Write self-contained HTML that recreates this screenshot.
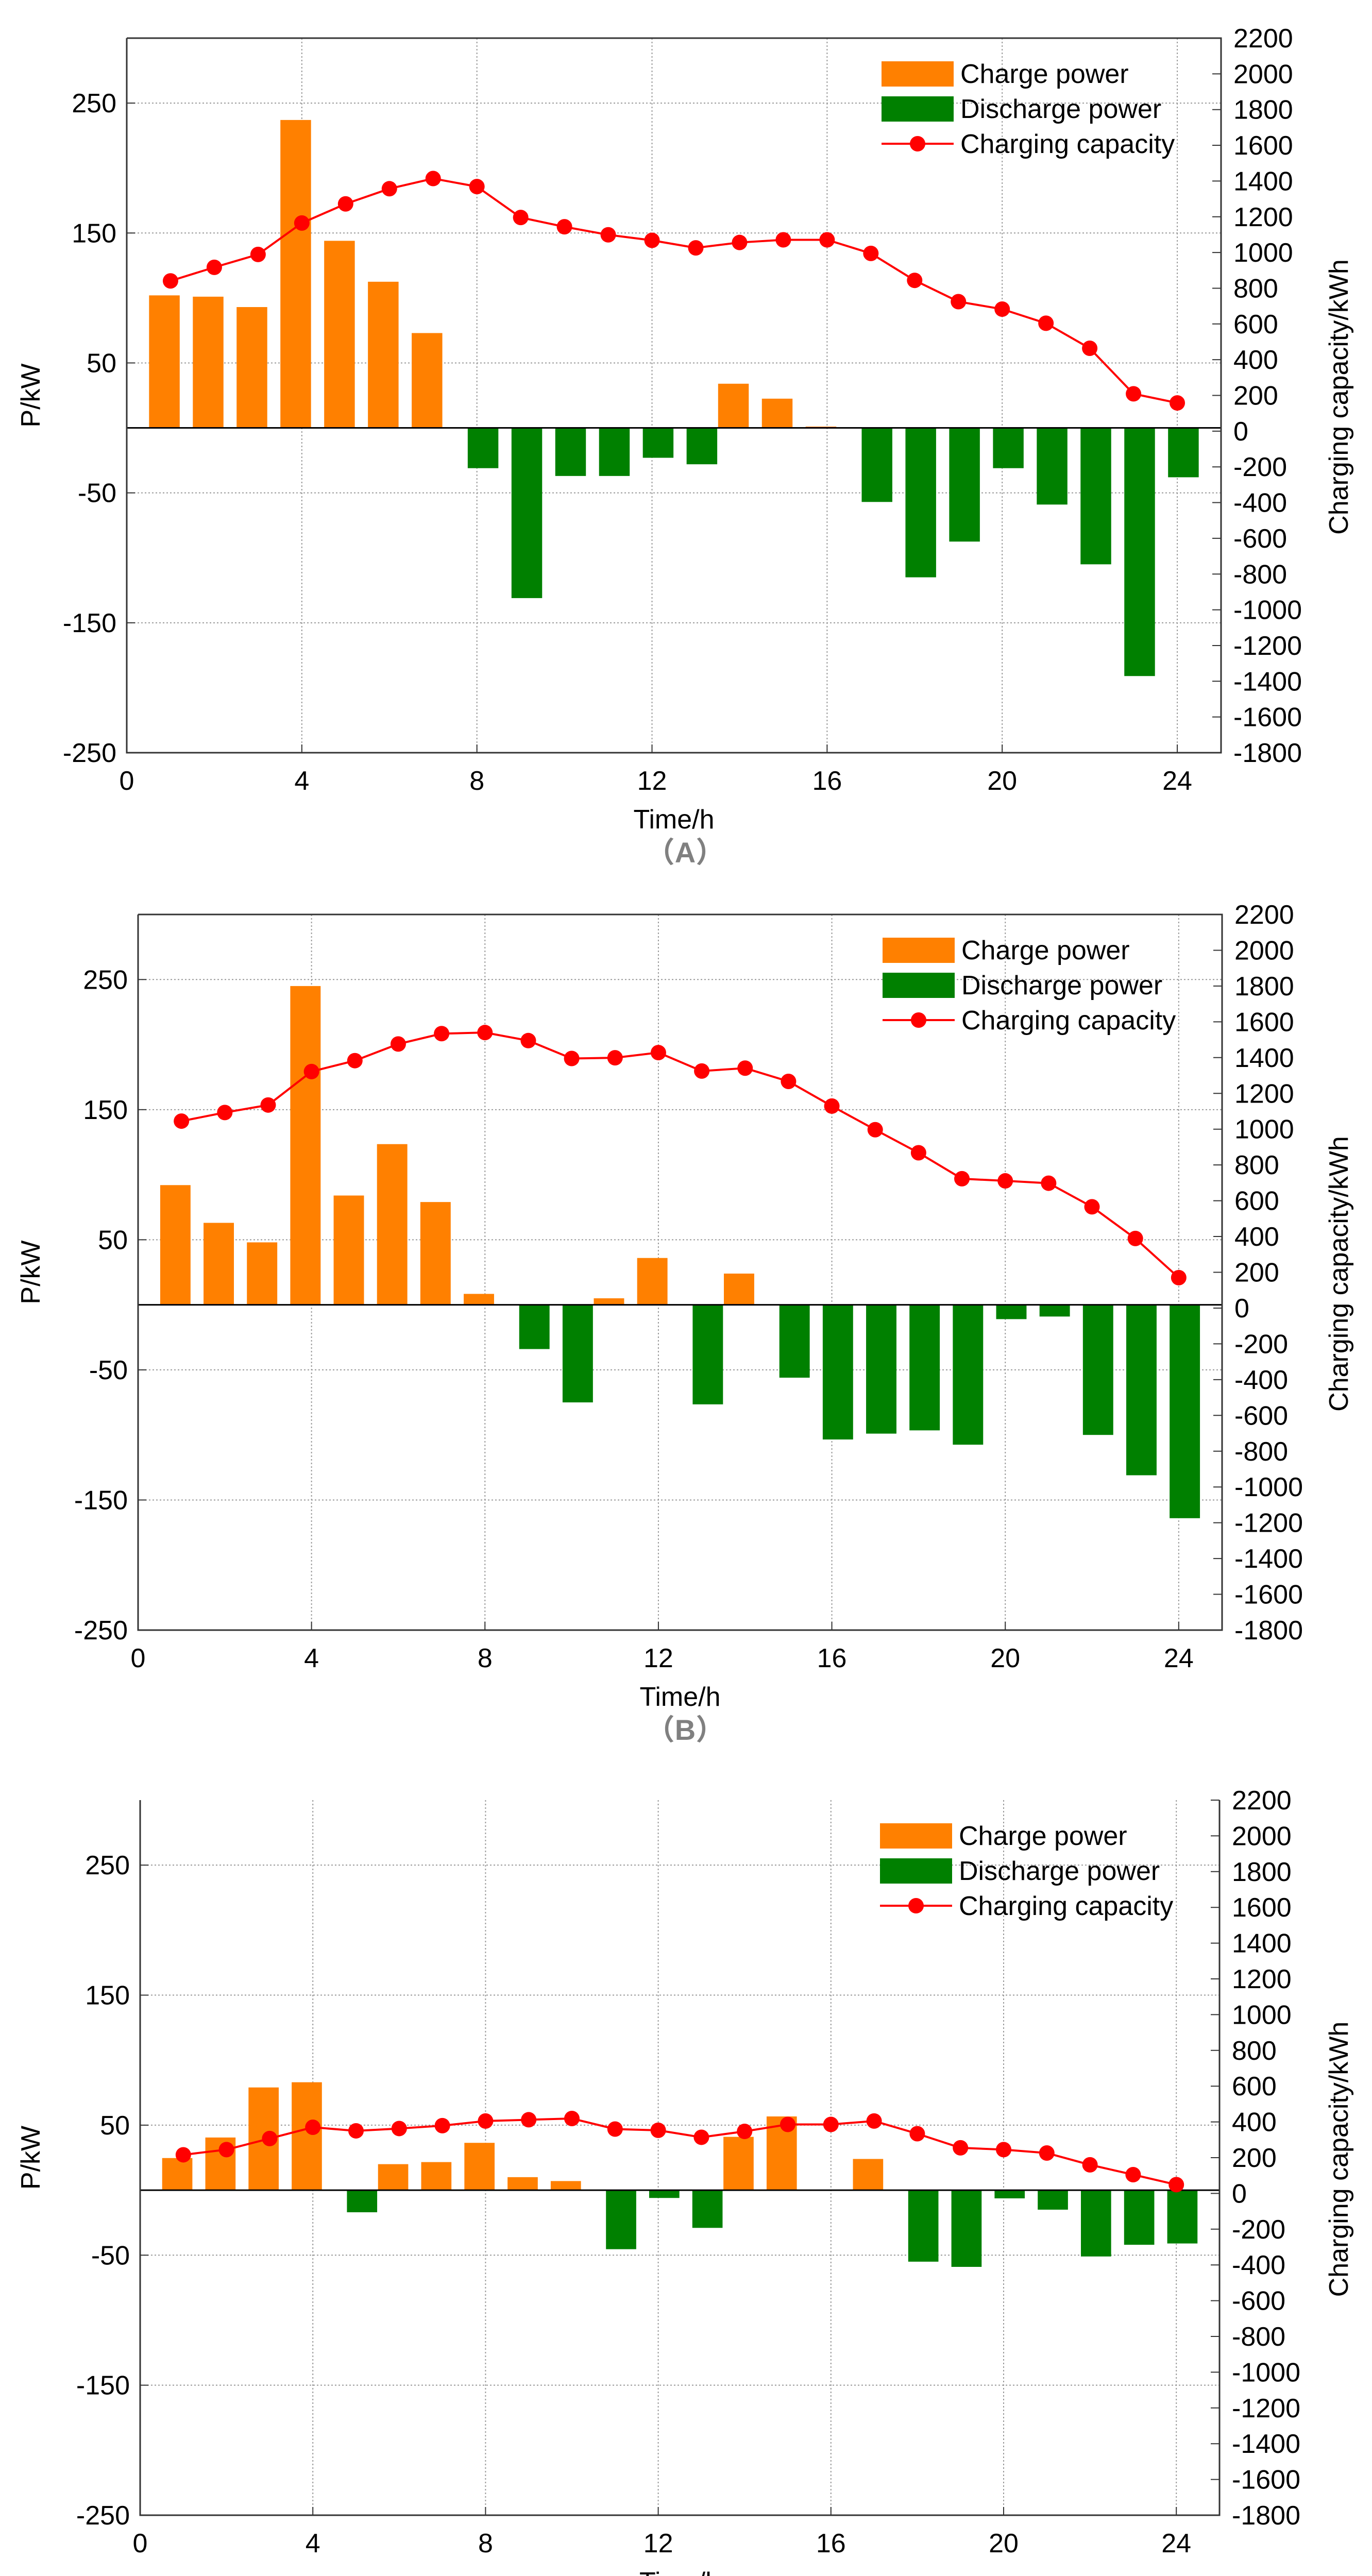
<!DOCTYPE html>
<html><head><meta charset="utf-8">
<style>
html,body{margin:0;padding:0;background:#fff;width:2663px;height:5129px;overflow:hidden;position:relative;}
svg{display:block;position:absolute;left:0;top:0;}
text{font-family:"Liberation Sans",Arial,sans-serif;}
</style></head>
<body>
<svg id="fig" xmlns="http://www.w3.org/2000/svg" width="2663" height="5129" viewBox="0 0 2663 5129"></svg>
<script>
const hours = [1,2,3,4,5,6,7,8,9,10,11,12,13,14,15,16,17,18,19,20,21,22,23,24];
const xTicks = [0,4,8,12,16,20,24];
const leftTicks = [250,150,50,-50,-150,-250];
const rightTicks = [2200,2000,1800,1600,1400,1200,1000,800,600,400,200,0,-200,-400,-600,-800,-1000,-1200,-1400,-1600,-1800];
const powerA = [102,101,93,237,144,112.5,73,-31,-131,-37,-37,-23,-28,34,22.5,1,-57,-115,-87.5,-31,-59,-105,-191,-38];
const capA = [841,917,989,1165,1272,1357,1414,1369,1196,1144,1099,1068,1026,1056,1071,1071,995,844,725,683,604,464,209,158];
const powerB = [92,63,48,245,84,123.5,79,8.4,-34,-75,5,36,-76.5,24,-56,-103.5,-99,-96.5,-107.5,-11,-9,-100,-131,-164];
const capB = [1045,1093,1135,1322,1383,1476,1534,1540,1495,1395,1399,1428,1325,1341,1267,1129,997,868,723,711,698,566,389,170];
const powerC = [24.7,40.5,79,83,-17,20,21.6,36.4,10,7,-45.4,-6,-29,41,56.7,0,24,-55,-59,-6.3,-15,-51,-42,-41];
const capC = [216,245,307,370,350,363,379,405,412,419,360,353,314,347,386,386,405,334,255,245,226,160,105,49];

const NS = "http://www.w3.org/2000/svg";
const svg = document.getElementById('fig');
function mk(tag, attrs, parent){
  const e = document.createElementNS(NS, tag);
  for (const k in attrs) e.setAttribute(k, attrs[k]);
  (parent||svg).appendChild(e);
  return e;
}

function panel(id, L, R, T, B, hasTop, power, cap, label){
  const g = mk('g', {});
  
  
  const xs = v => L + (v - 0) / 25 * (R - L);
  const ys = v => B - (v + 250) / 550 * (B - T);
  const yr = v => B - (v + 1800) / 4000 * (B - T);

  leftTicks.forEach(v => {
    if (v === -250) return;
    const l = mk('line', {x1:L, x2:R, y1:ys(v), y2:ys(v), stroke:'#999', 'stroke-width':2, 'stroke-dasharray':'3 4'}, g);
    
    
  });
  xTicks.forEach(v => {
    if (v === 0) return;
    const l = mk('line', {x1:xs(v), x2:xs(v), y1:T, y2:B, stroke:'#999', 'stroke-width':2, 'stroke-dasharray':'3 4'}, g);
    
    
  });

  const bw = 0.7 * (R - L) / 25;
  power.forEach((v, i) => {
    if (v === 0) return;
    const pos = v > 0;
    const cx = xs(hours[i] + (pos ? -0.14 : 0.14));
    const y0 = ys(0), y1 = ys(v);
    const r = mk('rect', {x:cx - bw/2, y:Math.min(y0,y1), width:bw, height:Math.abs(y1-y0), fill: pos ? '#ff8000' : '#008000'}, g);
    
    
  });

  const z = mk('line', {x1:L, x2:R, y1:ys(0), y2:ys(0), stroke:'#000', 'stroke-width':3}, g);
  
  

  const pts = cap.map((v, i) => xs(hours[i]) + ',' + yr(v)).join(' ');
  const pl = mk('polyline', {points:pts, fill:'none', stroke:'#ff0000', 'stroke-width':4}, g);
  
  
  cap.forEach((v, i) => {
    const c = mk('circle', {cx:xs(hours[i]), cy:yr(v), r:15, fill:'#ff0000'}, g);
    
    
  });

  const ax = mk('path', {d:`M${L},${T} L${L},${B} L${R},${B} L${R},${T}` + (hasTop ? ` L${L},${T}` : ''), fill:'none', stroke:'#333', 'stroke-width':3}, g);
  
  

  leftTicks.forEach(v => {
    const t = mk('line', {x1:L, x2:L+16, y1:ys(v), y2:ys(v), stroke:'#333', 'stroke-width':2}, g);
    
    
    const tx = mk('text', {x:L-20, y:ys(v)+18, 'font-size':52, 'text-anchor':'end', fill:'#000'}, g);
    tx.textContent = v;
    
    
  });
  rightTicks.forEach(v => {
    const t = mk('line', {x1:R-17, x2:R, y1:yr(v), y2:yr(v), stroke:'#333', 'stroke-width':2}, g);
    
    
    const tx = mk('text', {x:R+24, y:yr(v)+18, 'font-size':52, fill:'#000'}, g);
    tx.textContent = v;
    
    
  });
  xTicks.forEach(v => {
    const t = mk('line', {x1:xs(v), x2:xs(v), y1:B, y2:B-16, stroke:'#333', 'stroke-width':2}, g);
    
    
    const tx = mk('text', {x:xs(v), y:B+72, 'font-size':52, 'text-anchor':'middle', fill:'#000'}, g);
    tx.textContent = v;
    
    
  });

  const xt = mk('text', {x:(L+R)/2, y:B+147, 'font-size':52, 'text-anchor':'middle', fill:'#000'}, g);
  xt.textContent = 'Time/h';
  
  
  const mid = (T+B)/2;
  const yt = mk('text', {x:0, y:0, 'font-size':52, 'text-anchor':'middle', fill:'#000', transform:`translate(77,${mid}) rotate(-90)`}, g);
  yt.textContent = 'P/kW';
  
  
  const rt = mk('text', {x:0, y:0, 'font-size':52, 'text-anchor':'middle', fill:'#000', transform:`translate(2616,${mid+3}) rotate(-90)`}, g);
  rt.textContent = 'Charging capacity/kWh';
  
  
  const lb = mk('text', {x:1330, y:B+213, 'font-size':56, 'font-weight':'bold', 'text-anchor':'middle', fill:'#808080', style:'font-family:"Liberation Sans","Noto Sans CJK SC",sans-serif'}, g);
  lb.textContent = '（' + label + '）';
  
  

  const lg = mk('g', {}, g);
  
  
  const px = R - 659, pw = 140, tx0 = R - 506;
  const e1 = mk('rect', {x:px, y:T+45, width:pw, height:49, fill:'#ff8000'}, lg);
  
  
  const t1 = mk('text', {x:tx0, y:T+45+24+18, 'font-size':52, fill:'#000'}, lg);
  t1.textContent = 'Charge power';
  
  
  const e2 = mk('rect', {x:px, y:T+113, width:pw, height:49, fill:'#008000'}, lg);
  
  
  const t2 = mk('text', {x:tx0, y:T+113+24+18, 'font-size':52, fill:'#000'}, lg);
  t2.textContent = 'Discharge power';
  
  
  const e3 = mk('line', {x1:px, x2:px+pw, y1:T+205, y2:T+205, stroke:'#ff0000', 'stroke-width':4}, lg);
  
  
  const e4 = mk('circle', {cx:px+pw/2, cy:T+205, r:15, fill:'#ff0000'}, lg);
  
  
  const t3 = mk('text', {x:tx0, y:T+205+18, 'font-size':52, fill:'#000'}, lg);
  t3.textContent = 'Charging capacity';
  
  
}

panel('a', 246, 2370, 74, 1461, true, powerA, capA, 'A');
panel('b', 268, 2372, 1775, 3164, true, powerB, capB, 'B');
panel('c', 272, 2367, 3494, 4882, false, powerC, capC, 'C');
</script>
</body></html>
